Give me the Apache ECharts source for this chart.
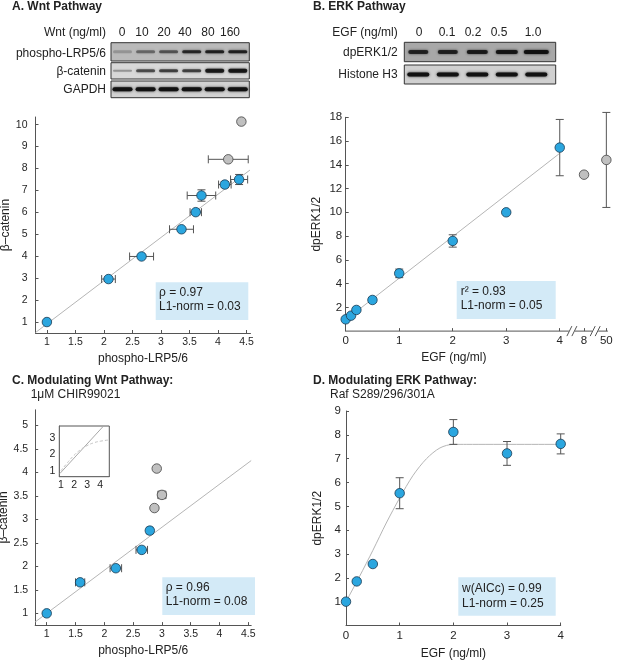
<!DOCTYPE html>
<html>
<head>
<meta charset="utf-8">
<script src="https://cdn.jsdelivr.net/npm/echarts@6/dist/echarts.min.js"></script>
<style>
  html, body { margin: 0; padding: 0; background: #fff; }
  #chart { width: 617px; height: 663px; }
</style>
</head>
<body>
<div id="chart"></div>
<script>
// ---- data ----
// A. Wnt pathway
const wntLanes = ['0', '10', '20', '40', '80', '160'];
const lrpBand = [0.2, 0.42, 0.52, 0.78, 0.82, 0.82];
const bcatBand = [0.3, 0.6, 0.66, 0.66, 0.88, 0.9];
const gapdhBand = [0.95, 0.95, 0.95, 0.95, 0.95, 0.95];
const wntLrp = [1.0, 2.08, 2.66, 3.36, 3.61, 3.71, 4.12, 4.37];
const wntBcat = [1.0, 2.96, 3.99, 5.23, 6.01, 6.77, 7.27, 7.5];
const wntLrpErr = [0.04, 0.12, 0.21, 0.21, 0.1, 0.25, 0.11, 0.15];
const wntBcatErr = [0.05, 0.08, 0.08, 0.08, 0.1, 0.26, 0.14, 0.23];
const wntLrpOut = [4.18, 4.41];
const wntBcatOut = [8.42, 10.14];
const wntLrpOutErr = [0.35, 0.04];
const wntBcatOutErr = [0.05, 0.08];
const wntFitX = [0.8, 4.56];
const wntFitY = [0.52, 7.93];

// B. ERK pathway
const egfLanes = ['0', '0.1', '0.2', '0.5', '1.0'];
const erkBand = [0.78, 0.8, 0.85, 0.9, 0.95];
const h3Band = [0.95, 0.95, 0.95, 0.95, 0.95];
const egfDose = [0, 0.1, 0.2, 0.5, 1, 2, 3, 4];
const erkLevel = [0.99, 1.3, 1.78, 2.62, 4.86, 7.59, 10.0, 15.45];
const erkErr = [0.1, 0.1, 0.12, 0.2, 0.36, 0.52, 0.1, 2.37];
const egfDoseOut = [8, 50];
const erkLevelOut = [13.17, 14.41];
const erkErrOut = [0.1, 4.0];
const erkFitX = [0, 4];
const erkFitY = [0.95, 14.97];
const egfTicks = [0, 1, 2, 3, 4, 8, 50];

// C. CHIR99021
const chirLrp = [1.0, 1.58, 2.2, 2.65, 2.79];
const chirBcat = [1.0, 1.66, 1.96, 2.35, 2.76];
const chirLrpErr = [0.03, 0.08, 0.1, 0.1, 0.05];
const chirBcatErr = [0.03, 0.04, 0.03, 0.04, 0.05];
const chirLrpOut = [2.87, 3.0, 2.91];
const chirBcatOut = [3.24, 3.52, 4.08];
const chirLrpOutErr = [0.03, 0.07, 0.03];
const chirBcatOutErr = [0.03, 0.08, 0.03];
const chirFitX = [0.8, 4.55];
const chirFitY = [0.817, 4.25];
const insetLineX = [0.92, 4.26];
const insetLineY = [0.83, 3.76];
const insetCurveX = [1, 1.5, 2, 2.5, 3, 3.5, 4, 4.7];
const insetCurveY = [1.0, 1.5, 1.95, 2.3, 2.55, 2.72, 2.82, 2.9];

// D. Raf mutant
const rafDose = [0, 0.2, 0.5, 1, 2, 3, 4];
const rafErk = [1.0, 1.85, 2.58, 5.55, 8.12, 7.22, 7.62];
const rafErr = [0.05, 0.05, 0.05, 0.65, 0.52, 0.5, 0.42];
const rafFitX = [0, 0.25, 0.5, 0.75, 1, 1.25, 1.5, 1.75, 2, 2.25, 4];
const rafFitY = [1, 2.05, 3.15, 4.3, 5.35, 6.3, 7.0, 7.45, 7.6, 7.6, 7.6];

// tick labels
const ticksA_x = [1, 1.5, 2, 2.5, 3, 3.5, 4, 4.5];
const ticksA_y = [1, 2, 3, 4, 5, 6, 7, 8, 9, 10];
const ticksB_y = [2, 4, 6, 8, 10, 12, 14, 16, 18];
const ticksC_x = [1, 1.5, 2, 2.5, 3, 3.5, 4, 4.5];
const ticksC_y = [1, 1.5, 2, 2.5, 3, 3.5, 4, 4.5, 5];
const ticksD_x = [0, 1, 2, 3, 4];
const ticksD_y = [1, 2, 3, 4, 5, 6, 7, 8, 9];
const ticksIn_x = [1, 2, 3, 4];
const ticksIn_y = [1, 2, 3];

// ---- layout ----
const F = 'Liberation Sans, Arial, Helvetica, sans-serif';
const BLUE = '#2ba6df';
const GREY = '#c0c0c0';
// where the broken B axis puts 8 and 50
const breakPos = { 8: 4.454, 50: 4.871 };
const bx = v => (v <= 4 ? v : breakPos[v]);

const chart = echarts.init(document.getElementById('chart'));

function ax(o) {
  return {
    type: 'value', gridIndex: o.g, min: o.min, max: o.max,
    name: o.name, nameLocation: 'middle', nameGap: o.gap,
    nameTextStyle: { fontSize: 12, color: '#222', fontFamily: F, padding: o.pad || 0 },
    axisLine: { show: o.line !== false, onZero: false, lineStyle: { color: '#555', width: 1 } },
    axisTick: { inside: true, length: 3, customValues: o.ticks, lineStyle: { color: '#555' } },
    axisLabel: { customValues: o.ticks, fontSize: o.fs || 10.5, color: '#262626', fontFamily: F,
      margin: o.margin, formatter: o.fmt },
    splitLine: { show: false }
  };
}

function pts(xs, ys) { return xs.map((x, i) => [x, ys[i]]); }
function errPts(xs, ys, ex, ey) { return xs.map((x, i) => [x, ys[i], ex[i], ey[i]]); }

function errSeries(g, data) {
  return {
    type: 'custom', xAxisIndex: g, yAxisIndex: g, data, z: 2, silent: true,
    encode: { x: 0, y: 1 },
    renderItem(params, api) {
      const x = api.value(0), y = api.value(1), ex = api.value(2), ey = api.value(3);
      const c = api.coord([x, y]);
      const st = { stroke: '#555', lineWidth: 1 };
      const kids = [];
      const cap = 4;
      if (ey > 0) {
        const t = api.coord([x, y + ey])[1], b = api.coord([x, y - ey])[1];
        kids.push({ type: 'line', shape: { x1: c[0], y1: t, x2: c[0], y2: b }, style: st });
        kids.push({ type: 'line', shape: { x1: c[0] - cap, y1: t, x2: c[0] + cap, y2: t }, style: st });
        kids.push({ type: 'line', shape: { x1: c[0] - cap, y1: b, x2: c[0] + cap, y2: b }, style: st });
      }
      if (ex > 0) {
        const l = api.coord([x - ex, y])[0], r = api.coord([x + ex, y])[0];
        kids.push({ type: 'line', shape: { x1: l, y1: c[1], x2: r, y2: c[1] }, style: st });
        kids.push({ type: 'line', shape: { x1: l, y1: c[1] - cap, x2: l, y2: c[1] + cap }, style: st });
        kids.push({ type: 'line', shape: { x1: r, y1: c[1] - cap, x2: r, y2: c[1] + cap }, style: st });
      }
      return { type: 'group', children: kids };
    }
  };
}

function dots(g, data, color) {
  return {
    type: 'scatter', xAxisIndex: g, yAxisIndex: g, data, symbolSize: 9.5, z: 3,
    itemStyle: { color, borderColor: color === BLUE ? '#1b3a52' : '#444', borderWidth: 0.8, opacity: 1 }
  };
}

function fit(g, data, extra) {
  return Object.assign({
    type: 'line', xAxisIndex: g, yAxisIndex: g, data, showSymbol: false, z: 1,
    lineStyle: { color: '#b5b5b5', width: 1 }
  }, extra || {});
}

// blot rows
function blotRow(x0, y0, w, h, bg, centers, vals, bw, bh) {
  const kids = [{
    type: 'rect', shape: { x: x0, y: y0, width: w, height: h },
    style: { fill: bg, stroke: '#333', lineWidth: 1 }
  }];
  vals.forEach((v, i) => {
    const hh = Array.isArray(bh) ? bh[i] : bh;
    const ww = Array.isArray(bw) ? bw[i] : bw;
    kids.push({
      type: 'rect', shape: { x: centers[i] - ww / 2, y: y0 + h / 2 - hh / 2, width: ww, height: hh, r: hh / 2 },
      style: { fill: 'rgba(15,15,15,' + v + ')', shadowBlur: 2.5, shadowColor: 'rgba(15,15,15,' + v + ')' }
    });
  });
  return kids;
}

function txt(x, y, s, o) {
  return Object.assign({ type: 'text', x, y }, o || {}, {
    style: Object.assign({ text: s, fontSize: 12, fontFamily: F, fill: '#222',
      textAlign: 'left', textVerticalAlign: 'middle' }, (o && o.style) || {})
  });
}

function statBox(x, y, w, h, lines, tx, ty) {
  return [
    { type: 'rect', shape: { x, y, width: w, height: h }, style: { fill: '#d3eaf7' }, z: 5 },
    txt(tx, ty[0], lines[0], { z: 6 }),
    txt(tx, ty[1], lines[1], { z: 6 })
  ];
}

const laneA = [122.5, 145.6, 168.6, 191.7, 214.7, 237.8];
const laneALabel = [122, 142, 164, 185, 208, 230];
const laneB = [418.3, 447.8, 477.3, 506.8, 536.3];
const laneBLabel = [419, 447, 473, 499, 533];

let graphics = [];
// blots
graphics = graphics.concat(
  blotRow(111, 42.7, 138.3, 18.3, '#bababa', laneA, lrpBand, 19, 3),
  blotRow(111, 62.7, 138.3, 16.3, '#d8d8d8', laneA, bcatBand, 19, [2, 3, 3, 3, 4, 4]),
  blotRow(111, 81, 138.3, 16.7, '#d2d2d2', laneA, gapdhBand, 20, 4),
  blotRow(404.3, 42.3, 151.4, 19.4, '#a8a8a8', laneB, erkBand, [20, 20, 21, 22, 25], 4),
  blotRow(404.3, 65, 151.4, 19, '#d0d0d0', laneB, h3Band, 22, 4)
);
graphics.push(txt(106, 32.3, 'Wnt (ng/ml)', { style: { textAlign: 'right' } }));
wntLanes.forEach((s, i) => graphics.push(txt(laneALabel[i], 32.3, s, { style: { textAlign: 'center' } })));
graphics.push(txt(106, 53.3, 'phospho-LRP5/6', { style: { textAlign: 'right' } }));
graphics.push(txt(106, 71.7, 'β-catenin', { style: { textAlign: 'right' } }));
graphics.push(txt(106, 90, 'GAPDH', { style: { textAlign: 'right' } }));
graphics.push(txt(397.7, 32.3, 'EGF (ng/ml)', { style: { textAlign: 'right' } }));
egfLanes.forEach((s, i) => graphics.push(txt(laneBLabel[i], 32.3, s, { style: { textAlign: 'center' } })));
graphics.push(txt(397.7, 52.3, 'dpERK1/2', { style: { textAlign: 'right' } }));
graphics.push(txt(397.7, 75, 'Histone H3', { style: { textAlign: 'right' } }));

// panel titles
const bold = { style: { fontWeight: 'bold' } };
graphics.push(txt(12, 7, 'A. Wnt Pathway', bold));
graphics.push(txt(313, 7, 'B. ERK Pathway', bold));
graphics.push(txt(12, 381, 'C. Modulating Wnt Pathway:', bold));
graphics.push(txt(30.7, 395, '1μM CHIR99021'));
graphics.push(txt(313, 381, 'D. Modulating ERK Pathway:', bold));
graphics.push(txt(330, 395, 'Raf S289/296/301A'));

// stat boxes
graphics = graphics.concat(
  statBox(155.7, 282.3, 92.6, 37.7, ['ρ = 0.97', 'L1-norm = 0.03'], 159, [292.7, 306.7]),
  statBox(456.7, 281, 99, 38, ['r² = 0.93', 'L1-norm = 0.05'], 460.7, [291.7, 305.5]),
  statBox(162.3, 577.3, 92.7, 37.7, ['ρ = 0.96', 'L1-norm = 0.08'], 165.7, [587.7, 601.7]),
  statBox(458.3, 577.3, 97.4, 38.4, ['w(AICc) = 0.99', 'L1-norm = 0.25'], 462, [589, 603.3])
);

const option = {
  animation: false,
  backgroundColor: '#fff',
  grid: [
    { left: 35.5, top: 117, width: 215, height: 216, outerBoundsMode: 'none' },
    { left: 345.7, top: 117.3, width: 262.2, height: 213.8, outerBoundsMode: 'none' },
    { left: 35.2, top: 409.8, width: 216, height: 215.3, outerBoundsMode: 'none' },
    { left: 346, top: 411, width: 214.7, height: 214.5, outerBoundsMode: 'none' },
    { left: 59.3, top: 426, width: 50, height: 50.7, outerBoundsMode: 'none',
      show: true, borderColor: '#555', borderWidth: 1, backgroundColor: '#fff', z: 4 }
  ],
  xAxis: [
    ax({ g: 0, min: 0.8, max: 4.57, ticks: ticksA_x, name: 'phospho-LRP5/6', gap: 20, margin: 4 }),
    ax({ g: 1, min: 0, max: 4.9, ticks: egfTicks.map(bx), name: 'EGF (ng/ml)', gap: 21, margin: 4,
      fs: 11.5, pad: [0, 46, 0, 0], line: false,
      fmt: v => { const k = egfTicks.findIndex(t => Math.abs(bx(t) - v) < 1e-6); return k < 0 ? '' : String(egfTicks[k]); } }),
    ax({ g: 2, min: 0.8, max: 4.55, ticks: ticksC_x, name: 'phospho-LRP5/6', gap: 20, margin: 4 }),
    ax({ g: 3, min: 0, max: 4, ticks: ticksD_x, name: 'EGF (ng/ml)', gap: 22, margin: 4, fs: 11.5 }),
    ax({ g: 4, min: 0.87, max: 4.7, ticks: ticksIn_x, margin: 3 })
  ],
  yAxis: [
    ax({ g: 0, min: 0.5, max: 10.35, ticks: ticksA_y, name: 'β–catenin', gap: 18, margin: 8 }),
    ax({ g: 1, min: 0, max: 18, ticks: ticksB_y, name: 'dpERK1/2', gap: 23, margin: 3.5, fs: 11.5 }),
    ax({ g: 2, min: 0.75, max: 5.33, ticks: ticksC_y, name: 'β–catenin', gap: 25, margin: 7 }),
    ax({ g: 3, min: 0, max: 9, ticks: ticksD_y, name: 'dpERK1/2', gap: 22, margin: 5, fs: 11.5 }),
    ax({ g: 4, min: 0.63, max: 3.76, ticks: ticksIn_y, margin: 4 })
  ],
  series: [
    // A
    fit(0, pts(wntFitX, wntFitY)),
    errSeries(0, errPts(wntLrp, wntBcat, wntLrpErr, wntBcatErr)),
    errSeries(0, errPts(wntLrpOut, wntBcatOut, wntLrpOutErr, wntBcatOutErr)),
    dots(0, pts(wntLrp, wntBcat), BLUE),
    dots(0, pts(wntLrpOut, wntBcatOut), GREY),
    // B
    fit(1, pts(erkFitX, erkFitY)),
    errSeries(1, errPts(egfDose, erkLevel, egfDose.map(() => 0), erkErr)),
    errSeries(1, errPts(egfDoseOut.map(bx), erkLevelOut, egfDoseOut.map(() => 0), erkErrOut)),
    dots(1, pts(egfDose, erkLevel), BLUE),
    dots(1, pts(egfDoseOut.map(bx), erkLevelOut), GREY),
    // C
    fit(2, pts(chirFitX, chirFitY)),
    errSeries(2, errPts(chirLrp, chirBcat, chirLrpErr, chirBcatErr)),
    errSeries(2, errPts(chirLrpOut, chirBcatOut, chirLrpOutErr, chirBcatOutErr)),
    dots(2, pts(chirLrp, chirBcat), BLUE),
    dots(2, pts(chirLrpOut, chirBcatOut), GREY),
    // inset
    fit(4, pts(insetLineX, insetLineY), { z: 5, lineStyle: { color: '#a8a8a8', width: 1 } }),
    fit(4, pts(insetCurveX, insetCurveY), { z: 5, smooth: true,
      lineStyle: { color: '#c4c4c4', width: 1, type: [3, 2] } }),
    // D
    fit(3, pts(rafFitX, rafFitY), { smooth: 0.3 }),
    errSeries(3, errPts(rafDose, rafErk, rafDose.map(() => 0), rafErr)),
    dots(3, pts(rafDose, rafErk), BLUE)
  ],
  graphic: graphics
};
chart.setOption(option);

// broken x axis of panel B: line segments and // marks
const yB = chart.convertToPixel({ yAxisIndex: 1 }, 0);
const px = v => chart.convertToPixel({ xAxisIndex: 1 }, v);
const x0 = px(0), xEnd = px(4.9);
const c1 = (px(4) + px(bx(8))) / 2, c2 = (px(bx(8)) + px(bx(50))) / 2;
const ls = { stroke: '#555', lineWidth: 1 };
const brk = [];
[[x0, c1 - 3], [c1 + 3, c2 - 3], [c2 + 3, xEnd]].forEach(s =>
  brk.push({ type: 'line', shape: { x1: s[0], y1: yB, x2: s[1], y2: yB }, style: ls }));
[c1, c2].forEach(c => {
  [-2.5, 2.5].forEach(o => brk.push({ type: 'line',
    shape: { x1: c + o - 2.5, y1: yB + 5, x2: c + o + 2.5, y2: yB - 5 }, style: ls }));
});
chart.setOption({ graphic: graphics.concat(brk) });
</script>
</body>
</html>
